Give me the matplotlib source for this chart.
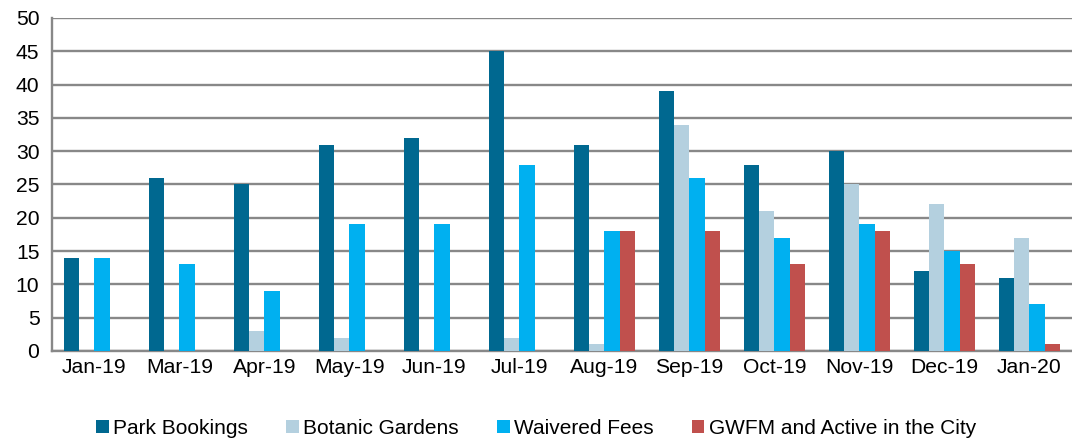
import numpy as np
import matplotlib.pyplot as plt

plt.rcParams['font.family'] = ['Liberation Sans', 'DejaVu Sans']

mois = ["Jan-19", "Mar-19", "Apr-19", "May-19", "Jun-19", "Jul-19",
        "Aug-19", "Sep-19", "Oct-19", "Nov-19", "Dec-19", "Jan-20"]
park_bookings = [14, 26, 25, 31, 32, 45, 31, 39, 28, 30, 12, 11]
botanic_gardens = [0, 0, 3, 2, 0, 2, 1, 34, 21, 25, 22, 17]
waivered_fees = [14, 13, 9, 19, 19, 28, 18, 26, 17, 19, 15, 7]
gwfm_active = [0, 0, 0, 0, 0, 0, 18, 18, 13, 18, 13, 1]

series = [
    ("Park Bookings", park_bookings, "#006890"),
    ("Botanic Gardens", botanic_gardens, "#B4D0DF"),
    ("Waivered Fees", waivered_fees, "#00B0F0"),
    ("GWFM and Active in the City", gwfm_active, "#C0504D"),
]

fig = plt.figure(figsize=(10.72, 4.44), dpi=100)
ax = fig.add_axes([0.0485, 0.2095, 0.9515, 0.75])

x = np.arange(len(mois))
largeur = 0.182
for i, (nom, valeurs, couleur) in enumerate(series):
    ax.bar(x + (i - 1.5) * largeur, valeurs, largeur, color=couleur, label=nom, zorder=3)

ax.set_xlim(-0.5, len(mois) - 0.5)
ax.set_ylim(0, 50)
ax.set_yticks(range(0, 51, 5))
ax.set_xticks(x)
ax.set_xticklabels(mois)
ax.tick_params(axis="both", length=0, labelsize=15.2, colors="black")
ax.tick_params(axis="x", pad=5)
ax.tick_params(axis="y", pad=9)

ax.grid(axis="y", color="#888888", linewidth=1.7, zorder=0)
for cote in ["top", "right"]:
    ax.spines[cote].set_visible(False)
ax.spines["left"].set_color("#888888")
ax.spines["left"].set_linewidth(1.7)
ax.spines["bottom"].set_color("#888888")
ax.spines["bottom"].set_linewidth(1.7)

ax.legend(
    loc="center",
    bbox_to_anchor=(0.5, 0.035),
    bbox_transform=fig.transFigure,
    ncol=4,
    frameon=False,
    fontsize=15,
    handlelength=0.6,
    handleheight=0.6,
    handletextpad=0.2,
    columnspacing=1.85,
)

plt.savefig("out.png", dpi=100)
